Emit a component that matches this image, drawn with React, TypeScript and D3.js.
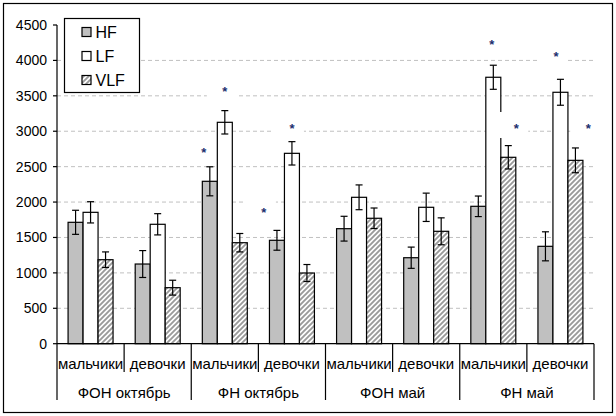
import React from "react";
import * as d3 from "d3";

const groups = ["ФОН октябрь", "ФН октябрь", "ФОН май", "ФН май"];
const subLabels = ["мальчики", "девочки", "мальчики", "девочки", "мальчики", "девочки", "мальчики", "девочки"];
const seriesNames = ["HF", "LF", "VLF"];
const hfValues = [1714, 1125, 2293, 1460, 1624, 1214, 1940, 1375];
const hfErrors = [170, 190, 205, 140, 175, 150, 145, 205];
const lfValues = [1855, 1686, 3126, 2688, 2067, 1926, 3762, 3550];
const lfErrors = [150, 150, 165, 165, 175, 200, 170, 183];
const vlfValues = [1186, 791, 1426, 998, 1771, 1587, 2632, 2589];
const vlfErrors = [110, 105, 130, 120, 145, 190, 165, 175];
const yTicks = [0, 500, 1000, 1500, 2000, 2500, 3000, 3500, 4000, 4500];
// significance marks: category index, series, height (value units), shift in bar widths
const starCats = [2, 2, 3, 3, 6, 6, 7, 7];
const starSeries = ["HF", "LF", "HF", "LF", "LF", "VLF", "LF", "VLF"];
const starValues = [2748, 3601, 1902, 3088, 4274, 3088, 4105, 3088];
const starShift = [-0.4, 0, -0.87, 0, -0.1, 0.53, -0.3, 0.85];

const W = 616;
const H = 416;
const L = 57;
const R = 594;
const T = 25;
const B = 343.7;
const FONT = "'Liberation Sans', Arial, sans-serif";

export default function App() {
  const y = d3.scaleLinear().domain([0, 4500]).range([B, T]);
  const cats = subLabels.map((_, i) => i);
  const x0 = d3.scaleBand<number>().domain(cats).range([L, R]).padding(0);
  const bw = x0.bandwidth();
  const x1 = d3.scaleBand<string>().domain(seriesNames).range([bw * 0.165, bw * 0.835]).padding(0);
  const barW = x1.bandwidth();
  const vals: Record<string, number[]> = { HF: hfValues, LF: lfValues, VLF: vlfValues };
  const errs: Record<string, number[]> = { HF: hfErrors, LF: lfErrors, VLF: vlfErrors };
  const fills: Record<string, string> = { HF: "#c0c0c0", LF: "#ffffff", VLF: "url(#hatch)" };
  const groupX = d3.scaleBand<number>().domain(groups.map((_, i) => i)).range([L, R]);

  const stars = starCats.map((c, i) => ({
    cx: (x0(c) as number) + (x1(starSeries[i]) as number) + barW / 2 + starShift[i] * barW,
    cy: y(starValues[i]),
  }));

  return (
    <svg width={W} height={H} style={{ position: "fixed", left: 0, top: 0, background: "#fff" }} fontFamily={FONT}>
      <defs>
        <pattern id="hatch" patternUnits="userSpaceOnUse" width="5" height="5">
          <rect width="5" height="5" fill="#fff" />
          <path d="M-1.25,1.25 L1.25,-1.25 M0,5 L5,0 M3.75,6.25 L6.25,3.75" stroke="#9a9a9a" strokeWidth="1.9" />
        </pattern>
      </defs>
      <rect x={0} y={0} width={W} height={H} fill="#fff" />
      <rect x={3.5} y={3.5} width={609} height={409} fill="#fff" stroke="#000" strokeWidth={1.2} />
      {/* gridlines */}
      {yTicks.filter((t) => t > 0 && t < 4500).map((t) => (
        <line key={t} x1={L} x2={R} y1={y(t)} y2={y(t)} stroke="#c0c0c0" strokeDasharray="4 3" strokeWidth={1} />
      ))}
      {/* bars */}
      {cats.map((c) =>
        seriesNames.map((s) => {
          const v = vals[s][c];
          const bx = (x0(c) as number) + (x1(s) as number);
          return (
            <rect key={c + s} x={bx} y={y(v)} width={barW} height={B - y(v)} fill={fills[s]} stroke="#000" strokeWidth={1.2} />
          );
        })
      )}
      {/* error bars */}
      {cats.map((c) =>
        seriesNames.map((s) => {
          const v = vals[s][c];
          const e = errs[s][c];
          const cx = (x0(c) as number) + (x1(s) as number) + barW / 2;
          return (
            <g key={"e" + c + s} stroke="#000" strokeWidth={1.2}>
              <line x1={cx} x2={cx} y1={y(v + e)} y2={y(v - e)} />
              <line x1={cx - 3.5} x2={cx + 3.5} y1={y(v + e)} y2={y(v + e)} />
              <line x1={cx - 3.5} x2={cx + 3.5} y1={y(v - e)} y2={y(v - e)} />
            </g>
          );
        })
      )}
      {/* star labels with white boxes */}
      {stars.map((p, i) => (
        <g key={"s" + i}>
          <rect x={p.cx - 18} y={p.cy - 13} width={30} height={26} fill="#fff" />
          <text x={p.cx} y={p.cy + 7.6} textAnchor="middle" fontSize={13} fontWeight="bold" fill="#1c2f6e">*</text>
        </g>
      ))}
      {/* y axis */}
      <line x1={L} x2={L} y1={T} y2={400} stroke="#000" strokeWidth={1.2} />
      {yTicks.map((t) => (
        <g key={"t" + t}>
          <line x1={L - 4} x2={L} y1={y(t)} y2={y(t)} stroke="#000" strokeWidth={1.2} />
          <text x={47} y={y(t) + 5} textAnchor="end" fontSize={14} fill="#000">{t}</text>
        </g>
      ))}
      {/* x axis */}
      <line x1={L} x2={R} y1={B} y2={B} stroke="#000" strokeWidth={1.2} />
      {cats.slice(1).filter((c) => c % 2 === 1).map((c) => (
        <line key={"sd" + c} x1={x0(c)} x2={x0(c)} y1={B} y2={372} stroke="#000" strokeWidth={1.2} />
      ))}
      {groups.map((_, g) => (
        <line key={"gd" + g} x1={(groupX(g) as number) + groupX.bandwidth()} x2={(groupX(g) as number) + groupX.bandwidth()} y1={B} y2={400} stroke="#000" strokeWidth={1.2} />
      ))}
      {subLabels.map((s, c) => (
        <text key={"sl" + c} x={(x0(c) as number) + bw / 2} y={368.5} textAnchor="middle" fontSize={15} fill="#000">{s}</text>
      ))}
      {groups.map((g, i) => (
        <text key={"gl" + i} x={(groupX(i) as number) + groupX.bandwidth() / 2} y={397.5} textAnchor="middle" fontSize={15} fill="#000">{g}</text>
      ))}
      {/* legend */}
      <rect x={64.5} y={18.5} width={75} height={74} fill="#fff" stroke="#000" strokeWidth={1.2} />
      {seriesNames.map((s, i) => {
        const cy = 32 + i * 24;
        return (
          <g key={"lg" + s}>
            <rect x={82} y={cy - 4.5} width={9} height={9} fill={fills[s]} stroke="#000" strokeWidth={1.2} />
            <text x={95.5} y={cy + 5.5} fontSize={16} fill="#000">{s}</text>
          </g>
        );
      })}
    </svg>
  );
}
